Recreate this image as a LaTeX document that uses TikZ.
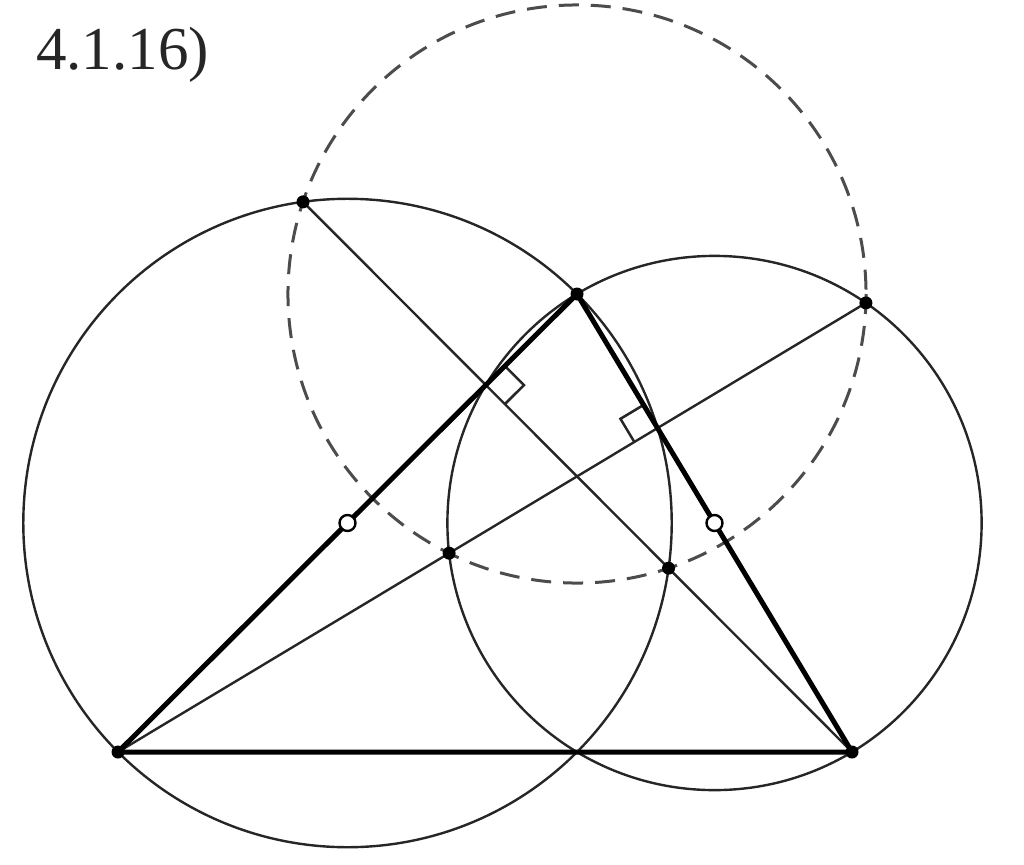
\documentclass[tikz,border=0pt]{standalone}
\usepackage{fontspec}
\setmainfont{Liberation Serif}
\begin{document}
\begin{tikzpicture}[x=1pt,y=-1pt,
  thinline/.style={line width=2.4pt,black!85},
  circ/.style={line width=2.4pt,black!85},
  dashcirc/.style={line width=3pt,black!70,dash pattern=on 20pt off 12pt},
  side/.style={line width=5pt,black,line cap=round,line join=round},
  rmark/.style={line width=2.5pt,black!85,line join=miter},
  dot/.style={circle,fill=black,inner sep=0pt,minimum size=13pt},
  odot/.style={circle,draw=black,fill=white,line width=2.4pt,inner sep=0pt,minimum size=16pt}]
\useasboundingbox (0,0) rectangle (1024,864);
% points
\coordinate (A) at (118,752);
\coordinate (B) at (852,752);
\coordinate (C) at (577,294);
\coordinate (M1) at (347.5,523);
\coordinate (M2) at (714.5,523);
\coordinate (FB) at (485.80,385.00);
\coordinate (FA) at (657.50,428.07);
\coordinate (P1) at (303.05,201.85);
\coordinate (P4) at (668.55,568.15);
\coordinate (P2) at (865.90,302.94);
\coordinate (P3) at (449.10,553.20);
% circles
\draw[circ] (M1) circle[radius=324.21];
\draw[circ] (M2) circle[radius=267.11];
\draw[dashcirc] (C) circle[radius=289.04];
% altitude lines
\draw[thinline] (P1) -- (B);
\draw[thinline] (A) -- (P2);
% right angle marks
\draw[rmark] (FB) -- (504.91,365.93) -- (523.98,385.04) -- (504.87,404.11);
\draw[rmark] (FA) -- (643.60,404.92) -- (620.45,418.82) -- (634.35,441.97);
% triangle
\draw[side] (A) -- (B) -- (C) -- cycle;
% dots
\foreach \p in {A,B,C,P1,P2,P3,P4} \node[dot] at (\p) {};
\node[odot] (m1) at (M1) {};
\node[odot] (m2) at (M2) {};
% label
\node[anchor=base west,inner sep=0pt,text=black!85,font=\fontsize{61}{72}\selectfont] (lab) at (36,70) {4.1.16)};
\end{tikzpicture}
\end{document}
